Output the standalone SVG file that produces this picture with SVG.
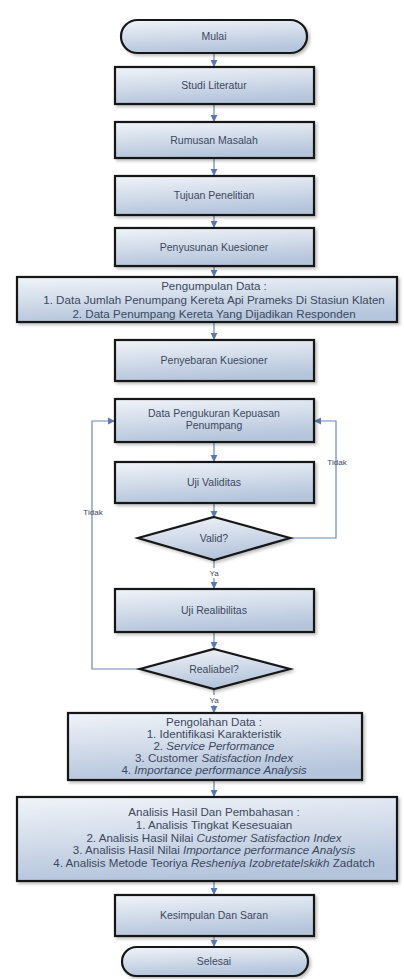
<svg xmlns="http://www.w3.org/2000/svg" width="404" height="979" viewBox="0 0 404 979">
<style>
.n{fill:url(#g);stroke:#161616;stroke-width:2.2;filter:url(#sh)}
.t{font-family:"Liberation Sans",Arial,sans-serif;font-size:10.5px;fill:#3b4860;text-anchor:middle}
.b{font-size:11.6px}
.s{font-size:8px}
.c{fill:none;stroke:#6a86b8;stroke-width:1.2}
.i{font-style:italic}
</style>
<defs>
<linearGradient id="g" x1="0" y1="0" x2="0.25" y2="1">
<stop offset="0" stop-color="#f1f4f9"/>
<stop offset="1" stop-color="#b5c5dc"/>
</linearGradient>
<filter id="sh" x="-5%" y="-10%" width="115%" height="130%">
<feDropShadow dx="2" dy="2" stdDeviation="1.5" flood-color="#000" flood-opacity="0.25"/>
</filter>
<marker id="a" viewBox="0 0 8 8" refX="7" refY="4" markerWidth="6" markerHeight="6" orient="auto">
<path d="M0,0 L8,4 L0,8 Z" fill="#5a78ae"/>
</marker>
</defs>
<rect width="404" height="979" fill="#fff"/>

<g id="connectors">
<line class="c" x1="214" y1="53" x2="214" y2="66" marker-end="url(#a)"/>
<line class="c" x1="214" y1="104" x2="214" y2="121" marker-end="url(#a)"/>
<line class="c" x1="214" y1="158" x2="214" y2="175" marker-end="url(#a)"/>
<line class="c" x1="214" y1="215" x2="214" y2="227" marker-end="url(#a)"/>
<line class="c" x1="214" y1="266" x2="214" y2="276" marker-end="url(#a)"/>
<line class="c" x1="214" y1="322" x2="214" y2="339" marker-end="url(#a)"/>
<line class="c" x1="214" y1="442" x2="214" y2="461" marker-end="url(#a)"/>
<line class="c" x1="214" y1="503" x2="214" y2="517" marker-end="url(#a)"/>
<line class="c" x1="214" y1="560" x2="214" y2="588" marker-end="url(#a)"/>
<line class="c" x1="214" y1="632" x2="214" y2="648" marker-end="url(#a)"/>
<line class="c" x1="214" y1="689" x2="214" y2="712" marker-end="url(#a)"/>
<line class="c" x1="214" y1="780" x2="214" y2="796" marker-end="url(#a)"/>
<line class="c" x1="214" y1="881" x2="214" y2="894" marker-end="url(#a)"/>
<line class="c" x1="214" y1="936" x2="214" y2="946" marker-end="url(#a)"/>
<polyline class="c" points="290,538 336,538 336,421 315,421" marker-end="url(#a)"/>
<polyline class="c" points="140,669 92,669 92,421 114,421" marker-end="url(#a)"/>
<rect x="207" y="568" width="14" height="10" fill="#fff"/>
<text class="t s" x="214" y="576">Ya</text>
<rect x="207" y="695" width="14" height="10" fill="#fff"/>
<text class="t s" x="214" y="703">Ya</text>
<text class="t s" x="337" y="465">Tidak</text>
<text class="t s" x="93" y="515">Tidak</text>
</g>

<g id="mulai"><rect class="n" x="121" y="20" width="186" height="33" rx="16.5"/><text class="t" x="214" y="40">Mulai</text></g>
<g id="studi"><rect class="n" x="115" y="67" width="199" height="37"/><text class="t" x="214" y="89">Studi Literatur</text></g>
<g id="rumusan"><rect class="n" x="115" y="122" width="199" height="36"/><text class="t" x="214" y="144">Rumusan Masalah</text></g>
<g id="tujuan"><rect class="n" x="115" y="176" width="199" height="39"/><text class="t" x="214" y="199">Tujuan Penelitian</text></g>
<g id="penyusunan"><rect class="n" x="115" y="228" width="199" height="38"/><text class="t" x="214" y="251">Penyusunan Kuesioner</text></g>
<g id="pengumpulan"><rect class="n" x="17" y="277" width="380" height="45"/>
<text class="t b" x="214" y="290">Pengumpulan Data :</text>
<text class="t b" x="214" y="304">1. Data Jumlah Penumpang Kereta Api Prameks Di Stasiun Klaten</text>
<text class="t b" x="214" y="318">2. Data Penumpang Kereta Yang Dijadikan Responden</text></g>
<g id="penyebaran"><rect class="n" x="115" y="340" width="199" height="41"/><text class="t" x="214" y="364">Penyebaran Kuesioner</text></g>
<g id="data-pengukuran"><rect class="n" x="115" y="399" width="199" height="43"/>
<text class="t" x="214" y="417">Data Pengukuran Kepuasan</text>
<text class="t" x="214" y="429">Penumpang</text></g>
<g id="uji-validitas"><rect class="n" x="115" y="462" width="199" height="41"/><text class="t" x="214" y="486">Uji Validitas</text></g>
<g id="valid"><polygon class="n" points="214,517 290,538 214,560 138,538"/><text class="t" x="214" y="542">Valid?</text></g>
<g id="uji-realibilitas"><rect class="n" x="115" y="589" width="199" height="43"/><text class="t" x="214" y="614">Uji Realibilitas</text></g>
<g id="realiabel"><polygon class="n" points="214,649 290,669 214,689 140,669"/><text class="t" x="214" y="673">Realiabel?</text></g>
<g id="pengolahan"><rect class="n" x="68" y="713" width="294" height="67"/>
<text class="t b" x="214" y="726">Pengolahan Data :</text>
<text class="t b" x="214" y="738">1. Identifikasi Karakteristik</text>
<text class="t b" x="214" y="750">2. <tspan class="i">Service Performance</tspan></text>
<text class="t b" x="214" y="762">3. Customer <tspan class="i">Satisfaction Index</tspan></text>
<text class="t b" x="214" y="774">4. <tspan class="i">Importance performance Analysis</tspan></text></g>
<g id="analisis"><rect class="n" x="17" y="797" width="380" height="84"/>
<text class="t b" x="214" y="816">Analisis Hasil Dan Pembahasan :</text>
<text class="t b" x="214" y="829">1. Analisis Tingkat Kesesuaian</text>
<text class="t b" x="214" y="842">2. Analisis Hasil Nilai <tspan class="i">Customer Satisfaction Index</tspan></text>
<text class="t b" x="214" y="854">3. Analisis Hasil Nilai <tspan class="i">Importance performance Analysis</tspan></text>
<text class="t b" x="214" y="867">4. Analisis Metode Teoriya <tspan class="i">Resheniya Izobretatelskikh</tspan> Zadatch</text></g>
<g id="kesimpulan"><rect class="n" x="115" y="895" width="199" height="41"/><text class="t" x="214" y="919">Kesimpulan Dan Saran</text></g>
<g id="selesai"><rect class="n" x="122" y="947" width="186" height="29" rx="14.5"/><text class="t" x="214" y="965">Selesai</text></g>
</svg>
